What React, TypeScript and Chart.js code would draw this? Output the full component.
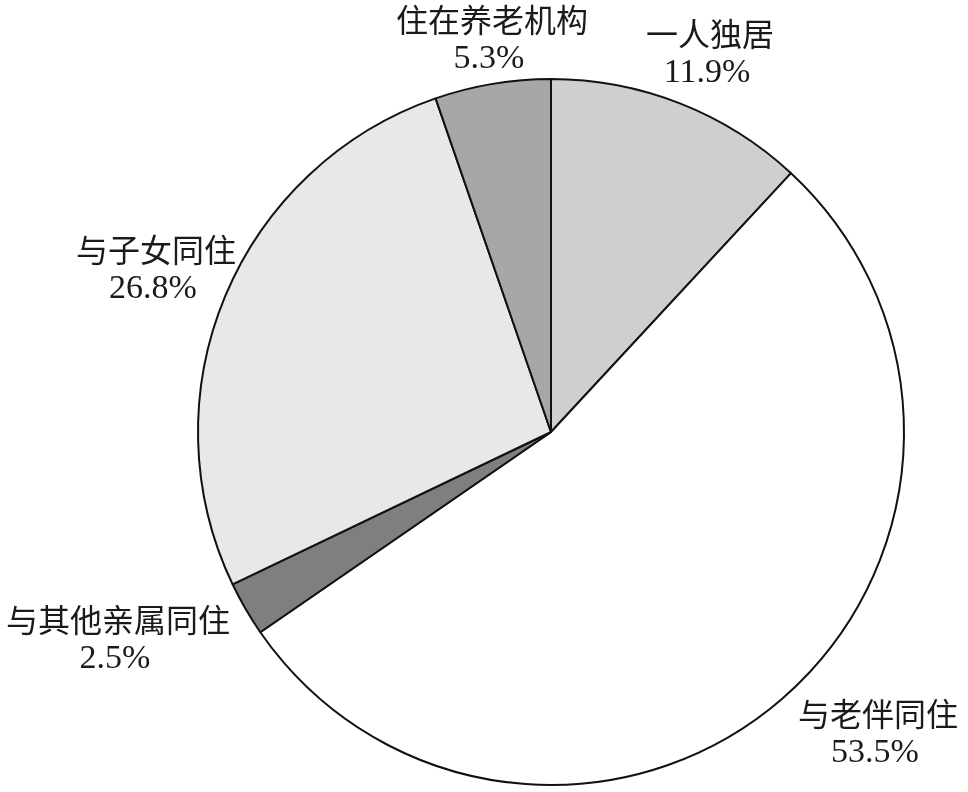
import { useEffect, useRef } from 'react';
import { Chart, registerables } from 'chart.js';

Chart.register(...registerables);

const categories = ['一人独居', '与老伴同住', '与其他亲属同住', '与子女同住', '住在养老机构'];
const shares = [11.9, 53.5, 2.5, 26.8, 5.3];
const sliceColors = ['#cfcfcf', '#ffffff', '#7f7f7f', '#e8e8e8', '#a7a7a9'];

// label anchor points (canvas px): name line, value line below
const labelPos = [
  [710, 34],
  [878, 714],
  [118, 620],
  [156, 250],
  [492, 20],
];

const labelPlugin = {
  id: 'sliceLabels',
  afterDraw(chart: Chart) {
    const ctx = chart.ctx;
    ctx.save();
    ctx.fillStyle = '#1a1a1a';
    ctx.textAlign = 'center';
    ctx.textBaseline = 'middle';
    categories.forEach((name, i) => {
      const [x, y] = labelPos[i];
      ctx.font = '32px "Noto Sans CJK SC"';
      ctx.fillText(name, x, y);
      ctx.font = '34px "Liberation Serif"';
      ctx.fillText(`${shares[i]}%`, x - 3, y + 39);
    });
    ctx.restore();
  },
};

export default function App() {
  const canvasRef = useRef<HTMLCanvasElement>(null);
  const chartRef = useRef<Chart | null>(null);

  useEffect(() => {
    if (!canvasRef.current) return;
    chartRef.current?.destroy();

    chartRef.current = new Chart(canvasRef.current, {
      type: 'pie',
      data: {
        labels: categories,
        datasets: [
          {
            data: shares,
            backgroundColor: sliceColors,
            borderColor: '#111111',
            borderWidth: 2,
          },
        ],
      },
      options: {
        responsive: true,
        maintainAspectRatio: false,
        animation: false,
        layout: { padding: { left: 197, right: 63, top: 78, bottom: 6 } },
        plugins: {
          legend: { display: false },
          tooltip: { enabled: false },
        },
      },
      plugins: [labelPlugin],
    });

    return () => {
      chartRef.current?.destroy();
    };
  }, []);

  return (
    <div style={{ position: 'fixed', left: 0, top: 0, width: 968, height: 792, background: '#fff' }}>
      <canvas ref={canvasRef} />
    </div>
  );
}
